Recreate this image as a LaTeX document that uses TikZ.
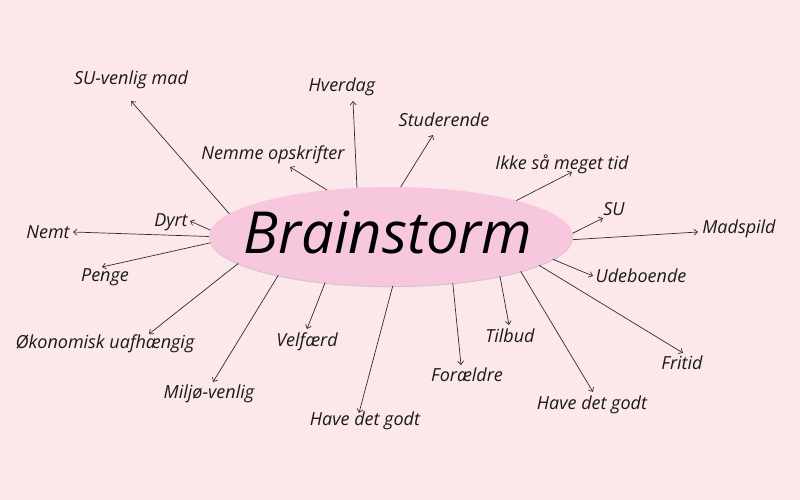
\documentclass[tikz,border=0pt]{standalone}
\usepackage{fontspec}
\setmainfont{Open Sans}
\usetikzlibrary{shapes.geometric,arrows.meta,shadows}
\definecolor{bgpink}{RGB}{252,232,235}
\definecolor{bubblepink}{RGB}{247,199,222}
\definecolor{inkgray}{RGB}{45,45,45}
\begin{document}
\begin{tikzpicture}[x=1pt,y=-1pt,
  word/.style={anchor=base,inner sep=0pt,text=black!90,font=\fontsize{18}{21}\selectfont\itshape},
  spoke/.style={draw=inkgray,line width=0.7pt,-{Straight Barb[length=3.5pt,width=6pt]}},
  bubble/.style={ellipse,fill=bubblepink,inner sep=0pt,outer sep=0pt,minimum width=364pt,minimum height=99pt}]
\fill[bgpink] (0,0) rectangle (800,500);
% centre
\node[bubble,drop shadow={shadow xshift=0pt,shadow yshift=-1.2pt,opacity=0.15,fill=black}] (bs) at (391,236.5) {};
\node[anchor=base,inner sep=0pt,font=\fontsize{58}{66}\selectfont\itshape] (title) at (388,253) {Brainstorm};
% labels
\node[word] (suv) at (131,85) {SU-venlig mad};
\node[word] (hverdag) at (342,92) {Hverdag};
\node[word] (nemme) at (273,159) {Nemme opskrifter};
\node[word] (stud) at (444,127) {Studerende};
\node[word] (ikke) at (562,169) {Ikke så meget tid};
\node[word] (su) at (614,215) {SU};
\node[word] (madspild) at (739,233) {Madspild};
\node[word] (ude) at (641,282) {Udeboende};
\node[word] (fritid) at (682,369) {Fritid};
\node[word] (godtR) at (592,409) {Have det godt};
\node[word] (tilbud) at (510,342) {Tilbud};
\node[word] (foraeldre) at (467,381) {Forældre};
\node[word] (godtM) at (365,425) {Have det godt};
\node[word] (velfaerd) at (307,346) {Velfærd};
\node[word] (miljo) at (209,398) {Miljø-venlig};
\node[word] (okonomi) at (105,348) {Økonomisk uafhængig};
\node[word] (penge) at (105,281) {Penge};
\node[word] (nemt) at (48,238) {Nemt};
\node[word] (dyrt) at (171,226) {Dyrt};
% arrow tips
\coordinate (suv-tip) at (131,101);
\coordinate (hverdag-tip) at (353,101);
\coordinate (nemme-tip) at (290,167);
\coordinate (stud-tip) at (433,135);
\coordinate (ikke-tip) at (572,172);
\coordinate (su-tip) at (603,218);
\coordinate (madspild-tip) at (698,232);
\coordinate (ude-tip) at (593,276);
\coordinate (fritid-tip) at (683,353);
\coordinate (godtR-tip) at (593,392);
\coordinate (tilbud-tip) at (509,325);
\coordinate (foraeldre-tip) at (461,365);
\coordinate (godtM-tip) at (359,413);
\coordinate (velfaerd-tip) at (307,329);
\coordinate (miljo-tip) at (213,382);
\coordinate (okonomi-tip) at (149,334);
\coordinate (penge-tip) at (102,267);
\coordinate (nemt-tip) at (73,232);
\coordinate (dyrt-tip) at (190,221);
% spokes
\draw[spoke] (bs.172) -- (suv-tip);
\draw[spoke] (bs.125.3) -- (hverdag-tip);
\draw[spoke] (bs.144.8) -- (nemme-tip);
\draw[spoke] (bs.79.7) -- (stud-tip);
\draw[spoke] (bs.16.7) -- (ikke-tip);
\draw[spoke] (bs.1.1) -- (su-tip);
\draw[spoke] (bs.-1.4) -- (madspild-tip);
\draw[spoke] (bs.-8.3) -- (ude-tip);
\draw[spoke] (bs.-11.2) -- (fritid-tip);
\draw[spoke] (bs.-15.7) -- (godtR-tip);
\draw[spoke] (bs.-20.7) -- (tilbud-tip);
\draw[spoke] (bs.-37.3) -- (foraeldre-tip);
\draw[spoke] (bs.-88) -- (godtM-tip);
\draw[spoke] (bs.-145.6) -- (velfaerd-tip);
\draw[spoke] (bs.199.6) -- (miljo-tip);
\draw[spoke] (bs.190.7) -- (okonomi-tip);
\draw[spoke] (bs.182) -- (penge-tip);
\draw[spoke] (bs.180.5) -- (nemt-tip);
\draw[spoke] (bs.178.6) -- (dyrt-tip);
\end{tikzpicture}
\end{document}
